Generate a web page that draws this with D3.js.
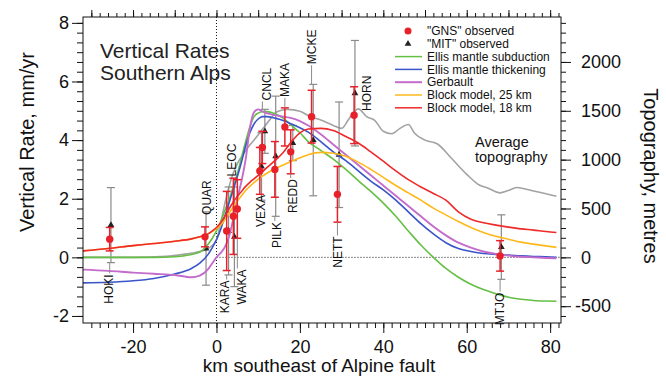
<!DOCTYPE html>
<html><head><meta charset="utf-8">
<script src="https://cdn.jsdelivr.net/npm/d3@7"></script>
<style>
html,body{margin:0;padding:0;background:#fff;}
svg{display:block;font-family:"Liberation Sans",Arial,Helvetica,sans-serif;}
</style></head><body>
<svg id="chart" width="666" height="379"></svg>
<script>
// ---------- data ----------
const modelKm = [-32,-26,-20,-15,-10,-6,-4,-2,-1,0,1,2,3,4,5,6,7,8,9,10,11,12,14,16,18,20,22,25,28,31,34,37,40,43,46,49,52,55,58,61,64,67,70,73,76,79,81.5];
const ellisSubduction = [0,0,0,0,0.02,0.1,0.18,0.45,0.65,0.9,1.2,1.6,1.95,2.4,2.85,3.4,3.95,4.45,4.8,4.92,4.97,4.97,4.9,4.75,4.5,4.25,3.95,3.65,3.35,3.0,2.62,2.25,1.85,1.4,0.9,0.42,0.0,-0.38,-0.68,-0.92,-1.1,-1.24,-1.36,-1.43,-1.47,-1.49,-1.5];
const ellisThickening = [-0.87,-0.85,-0.8,-0.72,-0.57,-0.38,-0.2,0.1,0.33,0.6,0.95,1.4,1.85,2.3,2.75,3.25,3.8,4.25,4.55,4.72,4.8,4.8,4.75,4.67,4.55,4.42,4.27,3.95,3.6,3.3,2.95,2.6,2.3,1.95,1.55,1.15,0.8,0.5,0.3,0.2,0.13,0.1,0.08,0.05,0.03,0.02,0.0];
const gerbault = [-0.42,-0.46,-0.52,-0.56,-0.6,-0.68,-0.62,-0.4,-0.2,0.0,0.15,0.35,0.7,1.3,2.0,2.6,3.35,4.4,4.95,5.05,4.98,4.92,4.85,4.8,4.75,4.65,4.5,4.2,3.85,3.5,3.15,2.8,2.45,2.1,1.75,1.4,1.05,0.75,0.5,0.33,0.2,0.12,0.06,0.02,0.0,-0.02,-0.03];
const block25 = [0.22,0.3,0.4,0.47,0.55,0.63,0.7,0.8,0.88,0.98,1.1,1.28,1.5,1.72,1.92,2.1,2.28,2.42,2.55,2.67,2.77,2.86,3.02,3.15,3.28,3.4,3.5,3.58,3.55,3.45,3.25,3.0,2.73,2.45,2.2,1.95,1.68,1.45,1.22,1.02,0.85,0.72,0.62,0.52,0.45,0.39,0.34];
const block18 = [0.22,0.3,0.4,0.47,0.55,0.63,0.7,0.8,0.9,1.02,1.18,1.4,1.65,1.88,2.08,2.25,2.42,2.56,2.68,2.8,2.92,3.05,3.3,3.58,3.95,4.25,4.38,4.4,4.33,4.12,3.9,3.6,3.28,2.95,2.65,2.4,2.18,1.95,1.55,1.3,1.18,1.1,1.03,0.97,0.93,0.88,0.85];

const topoKm = [-32,-20,-12,-8,-4,-2,0,1,2,3,4,5,6.5,8,9,11,13,14.5,17,20,22.5,25,28,30,31.5,33,34,36,38,40,42,44,46,47.5,50,53,56,60,63,65,68,70,72,74,76,79,81.5];
const topoMetres = [0,0,10,30,60,90,180,350,550,720,860,960,1060,1150,1200,1310,1420,1490,1515,1495,1440,1405,1350,1320,1400,1490,1520,1440,1400,1290,1265,1320,1360,1270,1200,1160,1030,850,740,710,660,685,715,700,680,650,625];

const stationNames = ["HOKI","QUAR","KARA","LEOC","WAKA","VEXA","CNCL","PILK","MAKA","REDD","MCKE","NETT","HORN","MTJO"];
const gnsKm    = [-25.6,-2.75,2.45,4.05,5.0,10.4,11.0,14.0,16.4,17.8,22.8,29.0,33.0,68.0];
const gnsRate  = [0.62,0.7,0.9,1.4,1.65,2.95,3.75,3.0,4.45,3.6,4.8,2.15,4.85,0.05];
const gnsError = [0.4,0.34,1.35,1.3,1.0,0.8,0.55,0.95,0.65,0.75,0.9,0.95,0.97,0.52];
const labelKm    = [-25.8,-2.25,2.04,3.72,6.11,10.67,12.11,14.5,16.42,18.34,22.9,29.13,36.1,67.97];
const labelRate  = [-1.08,2.04,-1.35,3.32,-1.01,1.58,5.91,0.76,6.05,2.09,7.18,0.18,5.6,-1.76];

const mitNames = ["HOKI","QUAR","KARA","LEOC","VEXA","CNCL","PILK","REDD","MCKE","NETT","HORN","MTJO"];
const mitKm    = [-25.3,-2.5,2.9,4.3,10.8,11.6,14.2,18.3,23.2,29.4,33.2,68.3];
const mitRate  = [1.1,0.3,0.9,0.7,3.1,4.3,3.45,3.9,4.0,3.5,5.6,0.35];
const mitError = [1.28,1.25,1.5,1.7,1.15,0.75,2.05,0.6,1.9,1.8,1.8,1.1];

const modelNames = ["Ellis mantle subduction","Ellis mantle thickening","Gerbault","Block model, 25 km","Block model, 18 km"];
const modelColors = ["#66bf45","#3a55c8","#c46ccc","#ffb81c","#ee2a2a"];
const xTicks = [-20,0,20,40,60,80];
const yTicks = [-2,0,2,4,6,8];
const topoTicks = [-500,0,500,1000,1500,2000];

// ---------- layout ----------
const L = 83, R = 561, T = 17, B = 323;
const svg = d3.select("#chart");
const x = d3.scaleLinear().domain([-32, 82.6]).range([L, R]);
const y = d3.scaleLinear().domain([-2.24, 8.2]).range([B, T]);
const yTopo = d3.scaleLinear().domain([-2.24*300, 8.2*300]).range([B, T]);

const plot = svg.append("g");
svg.append("clipPath").attr("id","clip").append("rect")
  .attr("x",L).attr("y",T).attr("width",R-L).attr("height",B-T);
const inner = plot.append("g").attr("clip-path","url(#clip)");

// reference dotted lines
inner.append("line").attr("x1",x(0)).attr("x2",x(0)).attr("y1",T).attr("y2",B)
  .attr("stroke","#111").attr("stroke-width",1).attr("stroke-dasharray","1,2");
inner.append("line").attr("x1",x(0)).attr("x2",R).attr("y1",y(0)).attr("y2",y(0))
  .attr("stroke","#111").attr("stroke-width",1).attr("stroke-dasharray","1,2");

// topography
const topoLine = d3.line().x((d,i)=>x(topoKm[i])).y(d=>yTopo(d)).curve(d3.curveMonotoneX);
inner.append("path").attr("d", topoLine(topoMetres)).attr("fill","none")
  .attr("stroke","#a3a3a3").attr("stroke-width",1.6);

// MIT error bars (gray)
const capW = 4;
mitNames.forEach((n,i)=>{
  const cx = x(mitKm[i]), y1 = y(mitRate[i]+mitError[i]), y2 = y(mitRate[i]-mitError[i]);
  const g = plot.append("g").attr("stroke","#8a8a8a").attr("stroke-width",1.2);
  g.append("line").attr("x1",cx).attr("x2",cx).attr("y1",y1).attr("y2",y2);
  g.append("line").attr("x1",cx-capW).attr("x2",cx+capW).attr("y1",y1).attr("y2",y1);
  g.append("line").attr("x1",cx-capW).attr("x2",cx+capW).attr("y1",y2).attr("y2",y2);
});
const tri = d3.symbol().type(d3.symbolTriangle).size(20);
mitNames.forEach((n,i)=>{
  plot.append("path").attr("d",tri()).attr("fill","#222")
    .attr("transform",`translate(${x(mitKm[i])},${y(mitRate[i])})`);
});

// models
const models = [ellisSubduction, ellisThickening, gerbault, block25, block18];
const mLine = d3.line().x((d,i)=>x(modelKm[i])).y(d=>y(d)).curve(d3.curveMonotoneX);
const mg = plot.append("g").attr("clip-path","url(#clip)");
models.forEach((m,k)=>{
  mg.append("path").attr("d", mLine(m)).attr("fill","none")
    .attr("stroke", modelColors[k]).attr("stroke-width", k===2?1.9:1.6);
});

// GNS error bars (red) + dots
stationNames.forEach((n,i)=>{
  const cx = x(gnsKm[i]), y1 = y(gnsRate[i]+gnsError[i]), y2 = y(gnsRate[i]-gnsError[i]);
  const g = plot.append("g").attr("stroke","#e8202a").attr("stroke-width",1.5);
  g.append("line").attr("x1",cx).attr("x2",cx).attr("y1",y1).attr("y2",y2);
  g.append("line").attr("x1",cx-capW).attr("x2",cx+capW).attr("y1",y1).attr("y2",y1);
  g.append("line").attr("x1",cx-capW).attr("x2",cx+capW).attr("y1",y2).attr("y2",y2);
});
stationNames.forEach((n,i)=>{
  plot.append("circle").attr("cx",x(gnsKm[i])).attr("cy",y(gnsRate[i])).attr("r",3.7).attr("fill","#e8202a");
});

// station labels with leader lines
stationNames.forEach((n,i)=>{
  const lx = x(labelKm[i]), ly = y(labelRate[i]);
  const t = plot.append("text").text(n).attr("font-size",12).attr("fill","#111")
    .attr("text-anchor","middle").attr("dy","0.35em")
    .attr("transform",`translate(${lx},${ly}) rotate(-90)`);
  const half = t.node().getComputedTextLength()/2;
  const mi = mitNames.indexOf(n);
  let top = y(gnsRate[i]+gnsError[i]), bot = y(gnsRate[i]-gnsError[i]);
  if (mi>=0){ top = Math.min(top, y(mitRate[mi]+mitError[mi])); bot = Math.max(bot, y(mitRate[mi]-mitError[mi])); }
  const bx = x(gnsKm[i]);
  if (ly + half < top && top - (ly+half) > 1) {
    plot.append("line").attr("x1",bx).attr("x2",bx).attr("y1",ly+half+1).attr("y2",top)
      .attr("stroke","#8a8a8a").attr("stroke-width",1);
  } else if (ly - half > bot && (ly-half) - bot > 1) {
    plot.append("line").attr("x1",bx).attr("x2",bx).attr("y1",bot).attr("y2",ly-half-1)
      .attr("stroke","#8a8a8a").attr("stroke-width",1);
  }
});

// frame
svg.append("rect").attr("x",L).attr("y",T).attr("width",R-L).attr("height",B-T)
  .attr("fill","none").attr("stroke","#111").attr("stroke-width",1);

// axes
function styleAxis(g){ g.select(".domain").remove(); g.selectAll("line").attr("stroke","#111");
  g.selectAll("text").attr("fill","#111").attr("font-size",18).attr("font-family",'"Liberation Sans",Arial,sans-serif'); }
svg.append("g").attr("transform",`translate(0,${B})`)
  .call(d3.axisBottom(x).tickValues(d3.range(-30,83,2)).tickSize(5).tickFormat("")).call(styleAxis);
svg.append("g").attr("transform",`translate(0,${B})`)
  .call(d3.axisBottom(x).tickValues(xTicks).tickSize(10).tickPadding(7)).call(styleAxis)
  .selectAll("text").text(d=>String(d));
svg.append("g").attr("transform",`translate(0,${T})`)
  .call(d3.axisTop(x).tickValues(d3.range(-30,83,2)).tickSize(4).tickFormat("")).call(styleAxis);
svg.append("g").attr("transform",`translate(0,${T})`)
  .call(d3.axisTop(x).tickValues(d3.range(-30,83,10)).tickSize(7).tickFormat("")).call(styleAxis);
svg.append("g").attr("transform",`translate(${L},0)`)
  .call(d3.axisLeft(y).tickValues(d3.range(-6,25).map(v=>v/3)).tickSize(6).tickFormat("")).call(styleAxis);
svg.append("g").attr("transform",`translate(${L},0)`)
  .call(d3.axisLeft(y).tickValues(yTicks).tickSize(11).tickPadding(3)).call(styleAxis)
  .selectAll("text").text(d=>String(d));
svg.append("g").attr("transform",`translate(${R},0)`)
  .call(d3.axisRight(yTopo).tickValues(d3.range(-600,2401,100)).tickSize(5).tickFormat("")).call(styleAxis);
const ra = svg.append("g").attr("transform",`translate(${R},0)`)
  .call(d3.axisRight(yTopo).tickValues(topoTicks).tickSize(10).tickPadding(10)).call(styleAxis);
ra.selectAll("text").text(d=>String(d)).attr("dx",d=>d<0?"-0.33em":0);

// axis titles
svg.append("text").text("km southeast of Alpine fault").attr("x",319).attr("y",372)
  .attr("text-anchor","middle").attr("font-size",19).attr("fill","#111");
svg.append("text").text("Vertical Rate, mm/yr").attr("text-anchor","middle").attr("font-size",20)
  .attr("fill","#111").attr("transform","translate(34,142) rotate(-90)");
svg.append("text").text("Topography, metres").attr("text-anchor","middle").attr("font-size",20)
  .attr("fill","#111").attr("transform","translate(644,176) rotate(90)");

// title
svg.append("text").text("Vertical Rates").attr("x",100).attr("y",58).attr("font-size",21).attr("fill","#222");
svg.append("text").text("Southern Alps").attr("x",100).attr("y",80).attr("font-size",21).attr("fill","#222");

// average topography note
svg.append("text").text("Average").attr("x",475).attr("y",142).attr("dy","0.35em").attr("font-size",14.5).attr("fill","#111");
svg.append("text").text("topography").attr("x",475).attr("y",157).attr("dy","0.35em").attr("font-size",14.5).attr("fill","#111");

// legend
const legY = d3.range(7).map(i=>31 + i*12.8);
const lg = svg.append("g");
lg.append("circle").attr("cx",408).attr("cy",legY[0]).attr("r",3.5).attr("fill","#e8202a");
lg.append("path").attr("d",d3.symbol().type(d3.symbolTriangle).size(20)()).attr("fill","#222")
  .attr("transform",`translate(408,${legY[1]})`);
const legText = ['"GNS" observed','"MIT" observed'].concat(modelNames);
legText.forEach((t,i)=>{
  lg.append("text").text(t).attr("x",427).attr("y",legY[i]).attr("dy","0.35em").attr("font-size",12).attr("fill","#111");
});
modelNames.forEach((n,k)=>{
  lg.append("line").attr("x1",395).attr("x2",422).attr("y1",legY[k+2]).attr("y2",legY[k+2])
    .attr("stroke",modelColors[k]).attr("stroke-width",k===2?2:1.5);
});
</script>
</body></html>
